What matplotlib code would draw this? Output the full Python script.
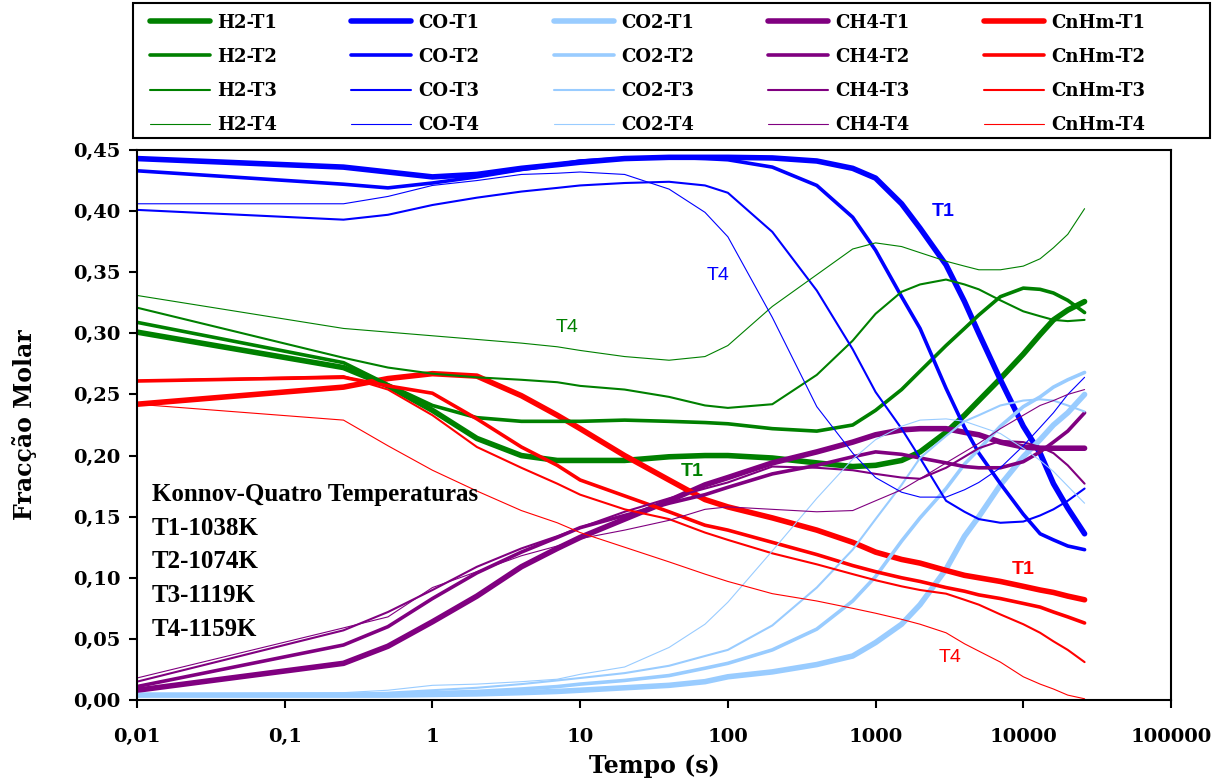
import matplotlib
matplotlib.use("Agg")
import matplotlib.pyplot as plt
from matplotlib.ticker import FixedLocator, FixedFormatter, NullLocator
from matplotlib.font_manager import FontProperties
from matplotlib.patches import Rectangle

# ---------------- data ----------------
time_s = [0.01, 0.25, 0.5, 1, 2, 4, 7, 10, 20, 40, 70, 100, 200, 400, 700,
          1000, 1500, 2000, 3000, 4000, 5000, 7000, 10000, 13000, 16000, 20000, 26000]

H2_T1 = [0.301, 0.272, 0.257, 0.237, 0.214, 0.200, 0.196, 0.196, 0.196, 0.199, 0.200, 0.200, 0.198, 0.194, 0.191,
         0.192, 0.196, 0.203, 0.219, 0.233, 0.245, 0.263, 0.283, 0.299, 0.311, 0.319, 0.326]
H2_T2 = [0.309, 0.276, 0.258, 0.241, 0.231, 0.228, 0.228, 0.228, 0.229, 0.228, 0.227, 0.226, 0.222, 0.220, 0.225,
         0.237, 0.254, 0.269, 0.290, 0.304, 0.315, 0.330, 0.337, 0.336, 0.333, 0.327, 0.317]
H2_T3 = [0.321, 0.280, 0.272, 0.267, 0.264, 0.262, 0.260, 0.257, 0.254, 0.248, 0.241, 0.239, 0.242, 0.266, 0.294,
         0.316, 0.334, 0.340, 0.344, 0.340, 0.336, 0.327, 0.318, 0.314, 0.311, 0.310, 0.311]
H2_T4 = [0.331, 0.304, 0.301, 0.298, 0.295, 0.292, 0.289, 0.286, 0.281, 0.278, 0.281, 0.290, 0.322, 0.348, 0.369,
         0.374, 0.371, 0.366, 0.359, 0.355, 0.352, 0.352, 0.355, 0.361, 0.370, 0.381, 0.402]

CO_T1 = [0.443, 0.436, 0.432, 0.428, 0.430, 0.435, 0.438, 0.440, 0.443, 0.444, 0.444, 0.444, 0.4435, 0.441, 0.435,
         0.427, 0.406, 0.386, 0.356, 0.326, 0.300, 0.262, 0.224, 0.202, 0.177, 0.157, 0.136]
CO_T2 = [0.433, 0.422, 0.419, 0.423, 0.428, 0.434, 0.438, 0.441, 0.443, 0.444, 0.443, 0.442, 0.436, 0.421, 0.395,
         0.368, 0.330, 0.304, 0.255, 0.223, 0.202, 0.177, 0.152, 0.136, 0.131, 0.126, 0.123]
CO_T3 = [0.401, 0.393, 0.397, 0.405, 0.411, 0.416, 0.419, 0.421, 0.423, 0.424, 0.421, 0.415, 0.383, 0.335, 0.287,
         0.252, 0.222, 0.198, 0.163, 0.154, 0.148, 0.145, 0.146, 0.151, 0.156, 0.163, 0.173]
CO_T4 = [0.406, 0.406, 0.412, 0.421, 0.425, 0.430, 0.431, 0.432, 0.430, 0.418, 0.399, 0.379, 0.313, 0.240, 0.202,
         0.182, 0.170, 0.166, 0.166, 0.172, 0.178, 0.190, 0.208, 0.223, 0.235, 0.250, 0.264]

CO2_T1 = [0.004, 0.004, 0.004, 0.0045, 0.005, 0.006, 0.007, 0.008, 0.010, 0.012, 0.015, 0.019, 0.023, 0.029, 0.036,
          0.047, 0.062, 0.078, 0.107, 0.134, 0.150, 0.176, 0.199, 0.213, 0.225, 0.235, 0.250]
CO2_T2 = [0.004, 0.004, 0.005, 0.006, 0.007, 0.009, 0.011, 0.013, 0.016, 0.020, 0.026, 0.030, 0.041, 0.058, 0.081,
          0.101, 0.130, 0.149, 0.173, 0.193, 0.205, 0.224, 0.240, 0.248, 0.256, 0.262, 0.268]
CO2_T3 = [0.005, 0.005, 0.006, 0.008, 0.010, 0.013, 0.016, 0.018, 0.022, 0.028, 0.036, 0.041, 0.061, 0.092, 0.123,
          0.148, 0.176, 0.198, 0.216, 0.228, 0.233, 0.241, 0.245, 0.246, 0.245, 0.241, 0.236]
CO2_T4 = [0.005, 0.006, 0.008, 0.012, 0.013, 0.015, 0.017, 0.021, 0.027, 0.043, 0.062, 0.080, 0.122, 0.165, 0.197,
          0.213, 0.224, 0.229, 0.230, 0.228, 0.224, 0.218, 0.206, 0.196, 0.187, 0.175, 0.161]

CH4_T1 = [0.008, 0.030, 0.044, 0.064, 0.085, 0.109, 0.124, 0.133, 0.148, 0.163, 0.176, 0.182, 0.194, 0.203, 0.211,
          0.217, 0.221, 0.222, 0.222, 0.219, 0.217, 0.211, 0.207, 0.206, 0.206, 0.206, 0.206]
CH4_T2 = [0.011, 0.045, 0.060, 0.083, 0.104, 0.121, 0.133, 0.141, 0.151, 0.161, 0.168, 0.174, 0.185, 0.192, 0.199,
          0.203, 0.201, 0.198, 0.194, 0.191, 0.190, 0.190, 0.195, 0.203, 0.211, 0.220, 0.235]
CH4_T3 = [0.015, 0.057, 0.072, 0.090, 0.109, 0.124, 0.134, 0.141, 0.154, 0.165, 0.173, 0.178, 0.191, 0.190, 0.188,
          0.185, 0.182, 0.181, 0.190, 0.199, 0.206, 0.212, 0.211, 0.207, 0.202, 0.192, 0.177]
CH4_T4 = [0.018, 0.059, 0.068, 0.092, 0.105, 0.118, 0.126, 0.132, 0.139, 0.147, 0.156, 0.158, 0.156, 0.154, 0.155,
          0.163, 0.172, 0.181, 0.194, 0.203, 0.210, 0.222, 0.233, 0.241, 0.245, 0.250, 0.254]

CnHm_T1 = [0.242, 0.256, 0.263, 0.267, 0.265, 0.249, 0.233, 0.222, 0.200, 0.180, 0.164, 0.158, 0.149, 0.139, 0.129,
           0.121, 0.115, 0.112, 0.106, 0.102, 0.100, 0.097, 0.093, 0.090, 0.088, 0.085, 0.082]
CnHm_T2 = [0.261, 0.264, 0.257, 0.251, 0.230, 0.207, 0.192, 0.180, 0.167, 0.154, 0.143, 0.139, 0.129, 0.119, 0.110,
           0.105, 0.100, 0.097, 0.092, 0.089, 0.086, 0.083, 0.079, 0.076, 0.072, 0.068, 0.063]
CnHm_T3 = [0.261, 0.265, 0.254, 0.233, 0.207, 0.190, 0.177, 0.168, 0.156, 0.148, 0.137, 0.131, 0.120, 0.111, 0.103,
           0.098, 0.093, 0.090, 0.087, 0.082, 0.078, 0.070, 0.062, 0.055, 0.048, 0.041, 0.031]
CnHm_T4 = [0.242, 0.229, 0.208, 0.188, 0.171, 0.155, 0.145, 0.137, 0.125, 0.113, 0.103, 0.097, 0.087, 0.081, 0.075,
           0.071, 0.066, 0.062, 0.055, 0.046, 0.040, 0.031, 0.019, 0.013, 0.009, 0.004, 0.001]

species = ["H2", "CO", "CO2", "CH4", "CnHm"]
temps = ["T1", "T2", "T3", "T4"]
series = {
    "H2": [H2_T1, H2_T2, H2_T3, H2_T4],
    "CO": [CO_T1, CO_T2, CO_T3, CO_T4],
    "CO2": [CO2_T1, CO2_T2, CO2_T3, CO2_T4],
    "CH4": [CH4_T1, CH4_T2, CH4_T3, CH4_T4],
    "CnHm": [CnHm_T1, CnHm_T2, CnHm_T3, CnHm_T4],
}
x_ticks = [0.01, 0.1, 1, 10, 100, 1000, 10000, 100000]
x_tick_labels = ["0,01", "0,1", "1", "10", "100", "1000", "10000", "100000"]
y_ticks = [0.00, 0.05, 0.10, 0.15, 0.20, 0.25, 0.30, 0.35, 0.40, 0.45]
y_tick_labels = ["0,00", "0,05", "0,10", "0,15", "0,20", "0,25", "0,30", "0,35", "0,40", "0,45"]
info_lines = ["Konnov-Quatro Temperaturas", "T1-1038K", "T2-1074K", "T3-1119K", "T4-1159K"]

# ---------------- styling ----------------
colors = {"H2": "#008000", "CO": "#0000FF", "CO2": "#99CCFF", "CH4": "#800080", "CnHm": "#FF0000"}
widths = {"T1": 4.0, "T2": 2.6, "T3": 1.5, "T4": 0.8}

W, H = 1213, 780
fig = plt.figure(figsize=(W / 100, H / 100), dpi=100)
ax = fig.add_axes([137 / W, 80 / H, 1034 / W, 550 / H])

lines = {}
for ti, T in enumerate(temps):
    for sp in species:
        ln, = ax.plot(time_s, series[sp][ti], color=colors[sp], lw=widths[T],
                      solid_capstyle="round", solid_joinstyle="round", label=f"{sp}-{T}")
        lines[(sp, T)] = ln

ax.set_xscale("log")
ax.set_xlim(0.01, 100000)
ax.set_ylim(0, 0.45)
ax.xaxis.set_major_locator(FixedLocator(x_ticks))
ax.xaxis.set_major_formatter(FixedFormatter(x_tick_labels))
ax.xaxis.set_minor_locator(NullLocator())
ax.yaxis.set_major_locator(FixedLocator(y_ticks))
ax.yaxis.set_major_formatter(FixedFormatter(y_tick_labels))

tick_font = FontProperties(family="DejaVu Serif", weight="bold", size=14)
for lab in ax.get_xticklabels() + ax.get_yticklabels():
    lab.set_fontproperties(tick_font)
ax.tick_params(axis="both", direction="out", length=6, width=1.5, color="black", pad=6)
ax.tick_params(axis="x", pad=14)
for s in ax.spines.values():
    s.set_linewidth(1.5)
    s.set_color("black")

label_font = FontProperties(family="DejaVu Serif", weight="bold", size=17)
ax.set_xlabel("Tempo (s)", fontproperties=label_font, labelpad=6)
ax.set_ylabel("Fracção Molar", fontproperties=label_font, labelpad=26)

# legend frame drawn separately so the entries can sit with Excel-like margins
fig.patches.append(Rectangle((133 / W, 1 - 138 / H), 1077 / W, 135 / H, transform=fig.transFigure,
                             facecolor="white", edgecolor="black", linewidth=1.5, zorder=0))
handles = [lines[(sp, T)] for sp in species for T in temps]
labels = [f"{sp}-{T}" for sp in species for T in temps]
leg = fig.legend(handles, labels, ncol=5, mode="expand", loc="upper left",
                 bbox_to_anchor=(150 / W, 1 - 13.5 / H, (1145 - 150) / W, 0.0), bbox_transform=fig.transFigure,
                 prop=FontProperties(family="DejaVu Serif", weight="bold", size=13),
                 handlelength=3.3, handletextpad=0.4, labelspacing=0.9, borderpad=0.0,
                 frameon=False, borderaxespad=0)

# info text block
info_font = FontProperties(family="Liberation Serif", weight="bold", size=18)
for i, txt in enumerate(info_lines):
    fig.text(152 / W, 1 - (495 + i * 33.5) / H, txt, fontproperties=info_font, va="center", ha="left")

# curve annotations
ann = [("T4", 567, 327, "#008000", "normal"), ("T4", 718, 275, "#0000FF", "normal"),
       ("T1", 943, 212, "#0000FF", "bold"), ("T1", 692, 471, "#008000", "bold"),
       ("T1", 1023, 570, "#FF0000", "bold"), ("T4", 950, 658, "#FF0000", "normal")]
for txt, px, py, c, wgt in ann:
    fig.text(px / W, 1 - py / H, txt, color=c, fontsize=14, family="Liberation Sans",
             weight=wgt, ha="center", va="center")

fig.savefig("out.png", dpi=100)
